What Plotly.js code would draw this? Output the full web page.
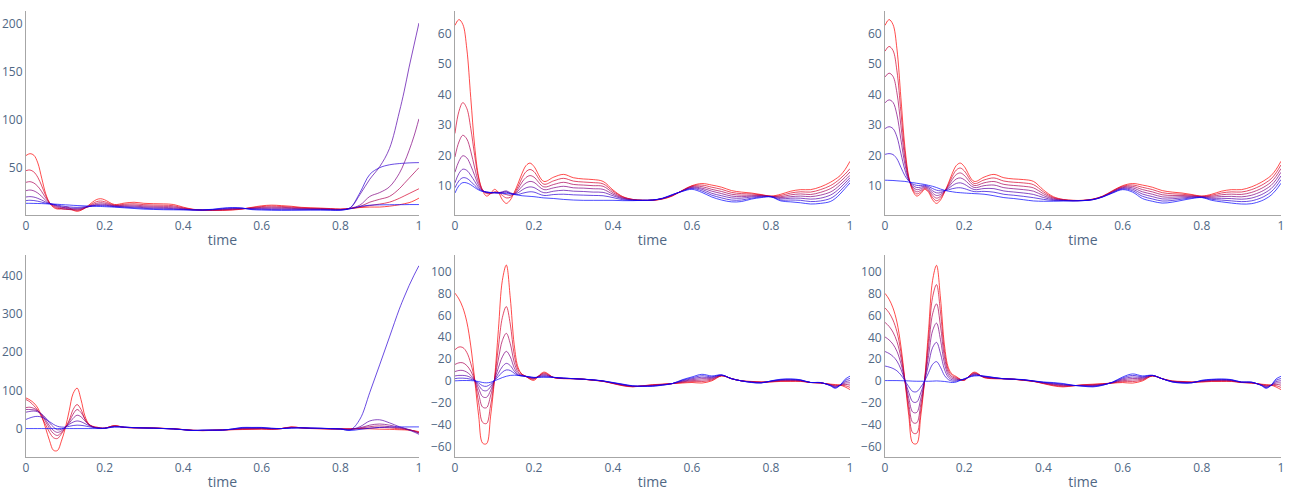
<!DOCTYPE html>
<html><head><meta charset="utf-8">
<script src="https://cdn.plot.ly/plotly-3.0.1.min.js"></script>
<style>html,body{margin:0;padding:0;background:#fff}#chart{width:1289px;height:491px}</style>
</head><body><div id="chart"></div>
<script>
const time = [0,0.01,0.02,0.03,0.04,0.05,0.06,0.07,0.08,0.09,0.1,0.11,0.12,0.13,0.14,0.15,0.16,0.17,0.18,0.19,0.2,0.225,0.25,0.275,0.3,0.325,0.35,0.375,0.4,0.425,0.45,0.475,0.5,0.525,0.55,0.575,0.6,0.625,0.65,0.675,0.7,0.725,0.75,0.775,0.8,0.825,0.85,0.875,0.9,0.925,0.95,0.9625,0.975,0.9875,1];

// top row, reddest curve (shared by the three top panels)
const TOP_RED = [62.7,64.6,63,55,39,23,13,8.5,6.8,7.6,9.0,8.0,5.6,4.4,5.5,8.0,11,14.3,16.8,17.6,16.5,11.6,13.0,13.9,12.8,12.4,12.2,11.6,8.8,6.6,5.7,5.4,5.4,5.8,6.8,8.6,10.2,10.9,10.4,9.7,8.6,8.1,7.8,7.3,6.8,7.4,8.4,8.9,8.9,9.8,11.3,12.3,13.5,15.5,18.2];

// panel 1
const P1_L1 = [46.9,47.6,45.5,40,31,21,13.5,9.5,7.5,6.8,6.5,6.3,5.8,5.4,6.0,7.8,10.2,12.7,14.6,15.2,14.5,11.0,11.8,12.3,11.4,11.0,10.8,10.3,8.1,6.4,5.7,5.5,5.7,6.1,6.9,8.2,9.4,9.9,9.5,8.9,8.1,7.7,7.4,7.0,6.6,7.3,8.8,10.5,12,14,18,20.5,23,25.5,28];
const P1_L2 = [34.7,35.4,34,30.5,25,18.5,13.2,10.3,8.5,7.4,6.8,6.4,6.2,6.0,6.5,7.9,9.6,11.5,12.9,13.4,13.0,10.5,10.8,11.0,10.2,9.8,9.6,9.2,7.5,6.2,5.7,5.7,6.0,6.5,7.1,7.8,8.6,8.9,8.6,8.2,7.6,7.3,7.1,6.8,6.4,7.4,9.5,14,17,20,28,33.5,39,44.5,50];
const P1_L3 = [26.0,26.7,25.8,23.5,20,16,12.8,11,9.5,8.3,7.5,7.0,6.8,6.8,7.2,8.2,9.3,10.7,11.7,12.1,11.8,10.1,10.0,9.9,9.2,8.8,8.5,8.2,7.0,6.0,5.7,5.9,6.4,6.9,7.3,7.4,7.9,8.0,7.8,7.5,7.1,6.9,6.8,6.5,6.2,7.6,11,20,24,30,44,55,68,83,101];
const P1_L4 = [19.4,19.8,19.3,18,16.2,14.2,12.6,11.4,10.3,9.2,8.4,7.8,7.6,7.6,7.9,8.6,9.3,10.2,10.9,11.1,10.9,9.7,9.3,9.0,8.3,7.9,7.6,7.3,6.6,5.9,5.8,6.1,6.8,7.4,7.5,7.0,7.2,7.1,7.0,6.8,6.6,6.5,6.4,6.2,6.0,8.0,22,38,51,70,108,130,155,178,201];
const P1_L5 = [15.6,16,15.7,15,14,13,12.3,11.8,11.0,10.2,9.5,9.0,8.7,8.6,8.8,9.2,9.6,10.0,10.3,10.4,10.2,9.3,8.7,8.2,7.5,7.1,6.8,6.6,6.2,5.8,5.8,6.3,7.3,7.9,7.7,6.6,6.5,6.3,6.2,6.1,6.1,6.1,6.1,5.9,5.8,8.2,24,43,50,53,54.3,54.7,55,55.2,55.3];
const P1_L6 = [12.8,12.8,12.7,12.6,12.5,12.3,12.1,12.0,11.8,11.5,11.2,11.0,10.7,10.5,10.3,10.1,9.9,9.8,9.6,9.5,9.3,8.8,8.1,7.4,6.7,6.4,6.1,6.0,5.9,5.8,5.9,6.6,7.8,8.4,7.9,6.2,5.8,5.5,5.4,5.5,5.6,5.7,5.7,5.6,5.6,7.0,9.5,10.8,11.2,11.3,11.4,11.4,11.5,11.5,11.5];

// panel 2
const P2_L1 = [27.3,34.5,37.4,35.5,29,20,12.5,8.8,7.6,7.6,8.2,8.0,7.0,6.2,6.4,7.7,10,12.8,14.8,15.5,14.8,10.7,11.8,12.6,11.7,11.4,11.2,10.8,8.4,6.5,5.7,5.4,5.4,5.9,6.9,8.6,10.1,10.4,9.7,9.0,8.0,7.6,7.5,7.2,6.7,7.0,7.8,8.2,8.1,8.9,10.2,11.2,12.5,14.0,15.8];
const P2_L2 = [19.6,24.5,26.7,25.5,21.5,16,11.2,8.7,7.9,7.7,8.0,8.0,7.6,7.3,7.0,7.5,9.2,11.4,12.9,13.5,13.0,9.8,10.6,11.3,10.6,10.4,10.2,10.0,7.9,6.3,5.6,5.4,5.5,5.9,7.0,8.5,9.9,9.9,9.0,8.3,7.4,7.1,7.1,7.0,6.7,6.6,7.2,7.5,7.3,8.0,9.2,10.2,11.5,13.0,14.7];
const P2_L3 = [14.6,18.2,20,19.3,16.8,13.5,10.3,8.6,8.0,7.8,7.9,7.9,8.0,8.2,7.6,7.5,8.5,10.0,11.1,11.6,11.3,8.9,9.5,10.0,9.5,9.4,9.2,9.0,7.4,6.1,5.6,5.4,5.5,6.0,7.1,8.5,9.7,9.4,8.4,7.6,6.8,6.6,6.8,6.9,6.7,6.3,6.6,6.8,6.6,7.1,8.1,9.1,10.5,12.0,13.6];
const P2_L4 = [11.1,14.2,15.6,15.2,13.6,11.6,9.6,8.5,8.1,7.9,7.9,7.9,8.2,8.5,7.9,7.5,7.9,8.8,9.5,9.8,9.6,7.9,8.4,8.7,8.4,8.3,8.1,8.0,6.9,5.9,5.5,5.4,5.5,6.0,7.1,8.4,9.5,9.0,7.7,6.9,6.2,6.1,6.5,6.7,6.6,5.9,6.1,6.1,5.8,6.1,7.1,8.1,9.5,11.1,12.8];
const P2_L5 = [9.5,11.8,12.8,12.6,11.6,10.3,9.1,8.4,8.1,7.9,7.9,7.8,8.0,8.1,7.7,7.4,7.3,7.7,8.0,8.2,8.1,7.0,7.3,7.4,7.2,7.1,7.0,6.9,6.3,5.6,5.4,5.4,5.5,6.0,7.2,8.4,9.3,8.5,7.1,6.2,5.5,5.5,6.1,6.5,6.6,5.5,5.5,5.4,5.0,5.2,6.0,7.0,8.5,10.2,12.0];
const P2_L6 = [7.8,10.2,11.2,11.1,10.5,9.6,8.8,8.3,8.1,8.0,7.9,7.8,7.7,7.6,7.5,7.3,7.1,6.9,6.8,6.7,6.6,6.2,6.0,5.7,5.5,5.4,5.4,5.4,5.4,5.3,5.3,5.4,5.5,6.1,7.3,8.3,9.0,8.0,6.5,5.5,4.9,5.0,5.8,6.3,6.5,5.2,4.9,4.6,4.2,4.4,5.0,6.0,7.5,9.3,11.1];

// panel 3
const P3_L1 = [54.25,55.8,54.5,47.8,34.45,21.1,12.7,8.95,7.5,8.13,9.27,8.38,6.33,5.27,6.1,8.12,10.57,13.28,15.33,15.98,15.05,10.93,12.07,12.73,11.72,11.33,11.1,10.53,8.18,6.35,5.62,5.37,5.38,5.77,6.75,8.47,9.98,10.43,9.67,8.93,7.92,7.55,7.4,7.08,6.72,7.07,7.82,8.17,8.12,8.88,10.28,11.25,12.43,14.38,17.0];
const P3_L2 = [45.8,47.05,46.0,40.6,29.9,19.2,12.5,9.4,8.2,8.67,9.53,8.77,7.07,6.13,6.7,8.23,10.13,12.27,13.87,14.37,13.6,10.27,11.13,11.57,10.63,10.27,10.0,9.47,7.57,6.1,5.53,5.33,5.37,5.73,6.7,8.33,9.77,9.97,8.93,8.17,7.23,7.0,7.0,6.87,6.63,6.73,7.23,7.43,7.33,7.97,9.27,10.2,11.37,13.27,15.8];
const P3_L3 = [37.35,38.3,37.5,33.4,25.35,17.3,12.2,9.85,8.9,9.2,9.8,9.15,7.8,7.0,7.3,8.35,9.7,11.25,12.4,12.75,12.15,9.6,10.2,10.4,9.55,9.2,8.9,8.4,6.95,5.85,5.45,5.3,5.35,5.7,6.65,8.2,9.55,9.5,8.2,7.4,6.55,6.45,6.6,6.65,6.55,6.4,6.65,6.7,6.55,7.05,8.25,9.15,10.3,12.15,14.6];
const P3_L4 = [28.9,29.5,28.9,26.2,20.8,15.4,11.9,10.3,9.6,9.73,10.07,9.53,8.53,7.87,7.9,8.47,9.27,10.23,10.93,11.13,10.7,8.93,9.27,9.23,8.47,8.13,7.8,7.33,6.33,5.6,5.37,5.27,5.33,5.67,6.6,8.07,9.33,9.03,7.47,6.63,5.87,5.9,6.2,6.43,6.47,6.07,6.07,5.97,5.77,6.13,7.23,8.1,9.23,11.03,13.4];
const P3_L5 = [20.45,20.7,20.4,19.0,16.25,13.5,11.7,10.75,10.3,10.27,10.33,9.92,9.27,8.73,8.5,8.58,8.83,9.22,9.47,9.52,9.25,8.27,8.33,8.07,7.38,7.07,6.7,6.27,5.72,5.35,5.28,5.23,5.32,5.63,6.55,7.93,9.12,8.57,6.73,5.87,5.18,5.35,5.8,6.22,6.38,5.73,5.48,5.23,4.98,5.22,6.22,7.05,8.17,9.92,12.2];
const P3_L6 = [12.0,11.95,11.9,11.8,11.7,11.6,11.4,11.2,11.0,10.8,10.6,10.3,10.0,9.6,9.1,8.7,8.4,8.2,8.0,7.9,7.8,7.6,7.4,6.9,6.3,6.0,5.6,5.2,5.1,5.1,5.2,5.2,5.3,5.6,6.5,7.8,8.9,8.1,6.0,5.1,4.5,4.8,5.4,6.0,6.3,5.4,4.9,4.5,4.2,4.3,5.2,6.0,7.1,8.8,11.0];

// bottom row, reddest curve (shared by the three bottom panels)
const BOT_RED = [80.3,75,67,54,32,1,-32,-57,-57.5,-33,1,47,92,106,76,33,12,6,4,1.5,0.5,8,3,2,2,1.5,0.5,-0.5,-2.5,-4.5,-5.5,-4.5,-3.5,-3,-2.5,-2,-1.5,-2,0,4.5,2,0,-0.5,-1,-1,-0.5,-0.5,-0.5,-1.5,-2,-3,-3.4,-3.9,-5.6,-8];

// panel 4
const P4_L1 = [76,70,60,48,30,10,-10,-24,-26,-14,2,22,50,63,50,25,10,4,2,1,1,7.3,3.2,2.1,1.9,1.4,0.4,-0.6,-2.6,-4.6,-5.25,-4.4,-3.6,-2.7,-1.6,-1.2,-0.75,-1.5,0,3.9,2,0.25,-0.25,-0.83,-1,-1,0,1,3,2,-1,-2,-3.5,-6,-10];
const P4_L2 = [55,56,53,47,35,18,0,-13,-18,-10,2,18,38,50,42,25,11,5,2,1,1,6.7,3.3,2.2,1.8,1.3,0.3,-0.7,-2.7,-4.7,-5,-4.3,-3.7,-2.3,-0.7,-0.3,0,-1,0,3.3,2,0.5,0,-0.67,-1,-1.5,1,5,7,5,1,-0.5,-3,-6.5,-11];
const P4_L3 = [50,50,49,46,37,23,7,-5,-10,-6,3,14,27,35,31,20,10,5,2,1,1,6,3.5,2.25,1.75,1.25,0.25,-0.75,-2.75,-4.75,-4.75,-4.25,-3.75,-2,0.25,0.5,0.75,-0.5,0,2.75,2,0.75,0.25,-0.5,-1,-2,2,9,12,9,3,0.5,-2.5,-7,-12];
const P4_L4 = [43,45,46,44,38,28,15,4,-3,-2,4,11,17,20,18,13,8,4,2,1,1,5.3,3.7,2.3,1.7,1.2,0.2,-0.8,-2.8,-4.8,-4.5,-4.2,-3.8,-1.7,1.2,1.3,1.5,0,0,2.2,2,1,0.5,-0.33,-1,-2.5,5,20,23,15,5,1,-4,-9,-15];
const P4_L5 = [24,28,31,32,30,25,18,11,6,4,4,6,8,9,8.5,7,5,3,2,1,1,4.7,3.8,2.4,1.6,1.1,0.1,-0.9,-2.9,-4.9,-4.25,-4.1,-3.9,-1.3,2.1,2.2,2.25,0.5,0,1.6,2,1.25,0.75,-0.17,-1,-4,25,95,167,240,313,345,375,402,427];
const P4_L6 = [0,0,0,0,0,0,0,0,0,0,0,0,0,0,0,0,0,0,0,0,0.5,4,4,2.5,1.5,1,0,-1,-3,-5,-4,-4,-4,-1,3,3,3,1,0,1,2,1.5,1,0,-1,-5,-2,1,3,4,4.2,4.3,4.3,4.4,4.4];

// panel 5
const P5_L1 = [28.5,31,30.5,26,16,1,-20,-38,-39,-23,1,31,58,68,52,24,10,6,4,2,1.5,7.2,3.0,2.1,2,1.5,0.6,-0.4,-2.3,-4.25,-5.3,-4.6,-3.75,-3.2,-2.5,-1.5,-0.65,-0.67,0.75,4.67,2,0,-0.67,-1.17,-0.83,-0.17,-0.12,-0.25,-1.5,-1.92,-3.25,-3.97,-3.92,-4.42,-5.95];
const P5_L2 = [15,16.5,16.5,14,9,0.5,-12,-24,-24.5,-14,1,20,37,43.5,34,17,8,5.5,4,2.5,2,6.4,3.1,2.2,2,1.5,0.7,-0.3,-2.2,-4.0,-5.2,-4.7,-4.0,-3.3,-2.5,-1.0,0.2,0.67,1.5,4.83,2,0,-0.83,-1.33,-0.67,0.17,0.27,0,-1.5,-1.83,-3.5,-4.53,-3.93,-3.23,-3.9];
const P5_L3 = [8.5,9.5,9.5,8,5,0.5,-7,-14.5,-15,-9,1,12,22,27,22,12,6.5,5,4,3,2.5,5.6,3.1,2.3,2,1.5,0.75,-0.25,-2.0,-3.75,-5.0,-4.75,-4.25,-3.5,-2.5,-0.5,1.05,2.0,2.25,5.0,2,0,-1.0,-1.5,-0.5,0.5,0.65,0.25,-1.5,-1.75,-3.75,-5.1,-3.95,-2.05,-1.85];
const P5_L4 = [4.5,5,5,4.5,3,0.3,-4,-8.5,-9,-5.5,0.5,7,13,16,14,9,5.5,4.5,4,3.2,2.7,4.8,3.1,2.4,2,1.5,0.8,-0.2,-1.8,-3.5,-4.8,-4.8,-4.5,-3.7,-2.5,0,1.9,3.33,3.0,5.17,2,0,-1.17,-1.67,-0.33,0.83,1.03,0.5,-1.5,-1.67,-4.0,-5.67,-3.97,-0.87,0.2];
const P5_L5 = [2,2.5,2.5,2.2,1.5,0.2,-2,-4.5,-5,-3,0.5,4,8,10,9.5,7,5,4.5,4,3.5,3,4.0,3.2,2.5,2,1.5,0.9,-0.1,-1.7,-3.25,-4.7,-4.9,-4.75,-3.8,-2.5,0.5,2.75,4.67,3.75,5.33,2,0,-1.33,-1.83,-0.17,1.17,1.42,0.75,-1.5,-1.58,-4.25,-6.23,-3.98,0.32,2.25];
const P5_L6 = [0,0.2,0.3,0.3,0.2,0,-0.7,-1.5,-1.8,-1.3,0,1.5,3,4.2,5,5.2,5,4.6,4.2,3.7,3.2,3.2,3.2,2.6,2,1.5,1,0,-1.5,-3,-4.5,-5,-5,-4,-2.5,1,3.6,6,4.5,5.5,2,0,-1.5,-2,0,1.5,1.8,1,-1.5,-1.5,-4.5,-6.8,-4.0,1.5,4.3];

// panel 6
const P6_L1 = [66.97,62.55,55.88,45.05,26.7,0.85,-26.67,-47.53,-47.97,-27.55,0.78,39.12,76.63,88.33,63.3,27.42,9.83,4.75,3.17,1.33,0.75,7.42,3.25,2.2,2,1.52,0.62,-0.42,-2.25,-4.0,-4.98,-4.42,-3.73,-3.42,-2.75,-1.83,-0.65,-0.6,0.77,4.62,2,-0.17,-0.75,-1.13,-0.73,-0.17,-0.12,-0.22,-1.42,-1.83,-3.2,-3.97,-3.92,-4.37,-5.97];
const P6_L2 = [53.63,50.1,44.77,36.1,21.4,0.7,-21.33,-38.07,-38.43,-22.1,0.57,31.23,61.27,70.67,50.6,21.83,7.67,3.5,2.33,1.17,1.0,6.83,3.5,2.4,2,1.53,0.73,-0.33,-2.0,-3.5,-4.47,-4.33,-3.97,-3.83,-3.0,-1.67,0.2,0.8,1.53,4.73,2,-0.33,-1.0,-1.27,-0.47,0.17,0.27,0.07,-1.33,-1.67,-3.4,-4.53,-3.93,-3.13,-3.93];
const P6_L3 = [40.3,37.65,33.65,27.15,16.1,0.55,-16,-28.6,-28.9,-16.65,0.35,23.35,45.9,53,37.9,16.25,5.5,2.25,1.5,1.0,1.25,6.25,3.75,2.6,2,1.55,0.85,-0.25,-1.75,-3.0,-3.95,-4.25,-4.2,-4.25,-3.25,-1.5,1.05,2.2,2.3,4.85,2,-0.5,-1.25,-1.4,-0.2,0.5,0.65,0.35,-1.25,-1.5,-3.6,-5.1,-3.95,-1.9,-1.9];
const P6_L4 = [26.97,25.2,22.53,18.2,10.8,0.4,-10.67,-19.13,-19.37,-11.2,0.13,15.47,30.53,35.33,25.2,10.67,3.33,1.0,0.67,0.83,1.5,5.67,4.0,2.8,2,1.57,0.97,-0.17,-1.5,-2.5,-3.43,-4.17,-4.43,-4.67,-3.5,-1.33,1.9,3.6,3.07,4.97,2,-0.67,-1.5,-1.53,0.07,0.83,1.03,0.63,-1.17,-1.33,-3.8,-5.67,-3.97,-0.67,0.13];
const P6_L5 = [13.63,12.75,11.42,9.25,5.5,0.25,-5.33,-9.67,-9.83,-5.75,-0.08,7.58,15.17,17.67,12.5,5.08,1.17,-0.25,-0.17,0.67,1.75,5.08,4.25,3.0,2,1.58,1.08,-0.08,-1.25,-2.0,-2.92,-4.08,-4.67,-5.08,-3.75,-1.17,2.75,5.0,3.83,5.08,2,-0.83,-1.75,-1.67,0.33,1.17,1.42,0.92,-1.08,-1.17,-4.0,-6.23,-3.98,0.57,2.17];
const P6_L6 = [0.3,0.3,0.3,0.3,0.2,0.1,0,-0.2,-0.3,-0.3,-0.3,-0.3,-0.2,0,-0.2,-0.5,-1,-1.5,-1,0.5,2,4.5,4.5,3.2,2,1.6,1.2,0,-1,-1.5,-2.4,-4,-4.9,-5.5,-4,-1,3.6,6.4,4.6,5.2,2,-1,-2,-1.8,0.6,1.5,1.8,1.2,-1,-1,-4.2,-6.8,-4.0,1.8,4.2];

const xTickVals = [0,0.2,0.4,0.6,0.8,1];
const xLabel = 'time';

const COLORS = ['rgba(255,0,0,0.7)','rgba(213,0,43,0.7)','rgba(170,0,85,0.7)','rgba(128,0,128,0.7)','rgba(85,0,170,0.7)','rgba(43,0,213,0.7)','rgba(0,0,255,0.7)'];

const panels = [
  {series:[TOP_RED,P1_L1,P1_L2,P1_L3,P1_L4,P1_L5,P1_L6], range:[0.6,213.6], dtick:50},
  {series:[TOP_RED,P2_L1,P2_L2,P2_L3,P2_L4,P2_L5,P2_L6], range:[0.6,67.4], dtick:10},
  {series:[TOP_RED,P3_L1,P3_L2,P3_L3,P3_L4,P3_L5,P3_L6], range:[0.6,67.4], dtick:10},
  {series:[BOT_RED,P4_L1,P4_L2,P4_L3,P4_L4,P4_L5,P4_L6], range:[-74.5,455], dtick:100},
  {series:[BOT_RED,P5_L1,P5_L2,P5_L3,P5_L4,P5_L5,P5_L6], range:[-69.7,115.2], dtick:20},
  {series:[BOT_RED,P6_L1,P6_L2,P6_L3,P6_L4,P6_L5,P6_L6], range:[-69.8,115.5], dtick:20}
];

const xDom = [[0,0.3131],[0.3418,0.6566],[0.6845,1]];
const yDom = [[0.5426,1],[0,0.4529]];

const traces = [];
const layout = {
  width:1289, height:491,
  margin:{l:26,r:8,t:11,b:34},
  paper_bgcolor:'#fff', plot_bgcolor:'#fff',
  showlegend:false,
  font:{family:'"Open Sans", verdana, arial, sans-serif', size:12, color:'#2a3f5f'}
};
panels.forEach((p,k)=>{
  const sfx = k===0 ? '' : String(k+1);
  p.series.forEach((ys,i)=>{
    traces.push({x:time, y:ys, type:'scatter', mode:'lines',
      line:{color:COLORS[i], width:1, shape:'spline', smoothing:1},
      xaxis:'x'+sfx, yaxis:'y'+sfx, hoverinfo:'skip', showlegend:false});
  });
  const row = k<3 ? 0 : 1, col = k%3;
  layout['xaxis'+sfx] = {domain:xDom[col], anchor:'y'+sfx, range:[0,1], tickvals:xTickVals,
    showgrid:false, zeroline:false, showline:true, linecolor:'#a6a6a6', linewidth:1, ticks:'',
    tickfont:{size:12,color:'#506784'}, title:{text:xLabel, font:{size:14,color:'#506784'}, standoff:1}};
  layout['yaxis'+sfx] = {domain:yDom[row], anchor:'x'+sfx, range:p.range, dtick:p.dtick, tick0:0,
    showgrid:false, zeroline:false, showline:true, linecolor:'#a6a6a6', linewidth:1, ticks:'',
    tickfont:{size:12,color:'#506784'}};
});
Plotly.newPlot('chart', traces, layout, {displayModeBar:false, staticPlot:true});
</script>
</body></html>
